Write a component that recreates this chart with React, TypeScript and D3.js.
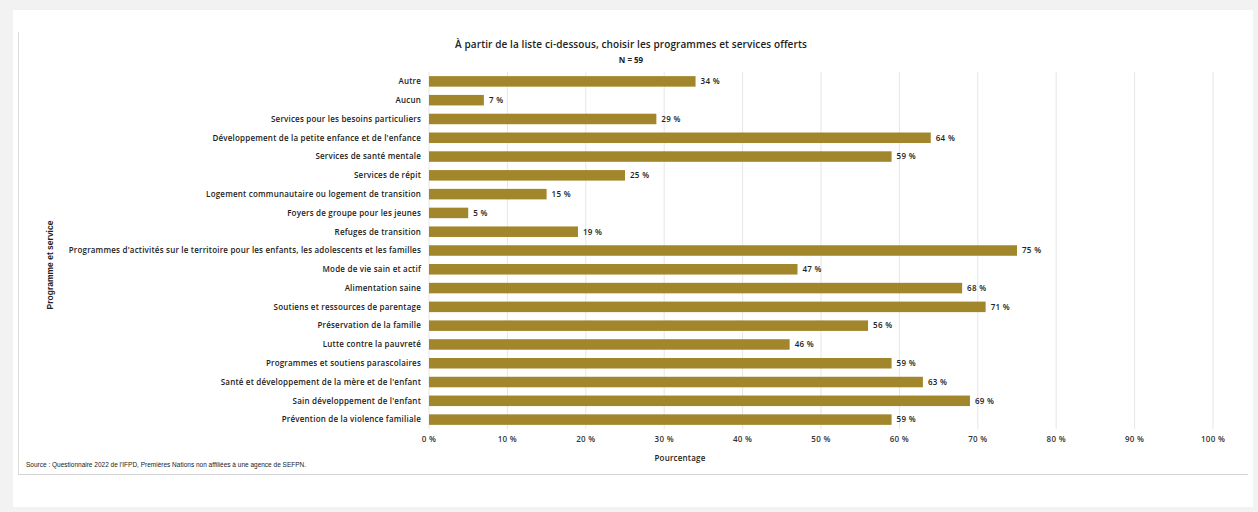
import React from "react";
import * as d3 from "d3";

const categories: string[] = [
  "Autre",
  "Aucun",
  "Services pour les besoins particuliers",
  "Développement de la petite enfance et de l'enfance",
  "Services de santé mentale",
  "Services de répit",
  "Logement communautaire ou logement de transition",
  "Foyers de groupe pour les jeunes",
  "Refuges de transition",
  "Programmes d'activités sur le territoire pour les enfants, les adolescents et les familles",
  "Mode de vie sain et actif",
  "Alimentation saine",
  "Soutiens et ressources de parentage",
  "Préservation de la famille",
  "Lutte contre la pauvreté",
  "Programmes et soutiens parascolaires",
  "Santé et développement de la mère et de l'enfant",
  "Sain développement de l'enfant",
  "Prévention de la violence familiale",
];
const values: number[] = [34, 7, 29, 64, 59, 25, 15, 5, 19, 75, 47, 68, 71, 56, 46, 59, 63, 69, 59];
const xTicks: number[] = [0, 10, 20, 30, 40, 50, 60, 70, 80, 90, 100];

const title = "À partir de la liste ci-dessous, choisir les programmes et services offerts";
const subtitle = "N = 59";
const xTitle = "Pourcentage";
const yTitle = "Programme et service";
const source = "Source : Questionnaire 2022 de l'IFPD, Premières Nations non affiliées à une agence de SEFPN.";

const W = 1258;
const H = 512;
const FONT = "'Open Sans', 'Noto Sans', sans-serif";
const BAR = "#a2862c";

export default function App() {
  const x = d3.scaleLinear().domain([0, 100]).range([429, 1213]);
  const y = d3.scaleBand<string>().domain(categories).range([72, 429]).paddingInner(0.44).paddingOuter(0.22);
  const fmt = (v: number) => `${v} %`;

  return (
    <svg
      width={W}
      height={H}
      style={{ position: "absolute", left: 0, top: 0, display: "block" }}
    >
      <rect x={0} y={0} width={W} height={H} fill="#f2f2f2" />
      <rect x={13} y={10} width={1240} height={497} fill="#ffffff" />
      {/* card borders */}
      <line x1={18.5} x2={18.5} y1={32} y2={474} stroke="#dcdcdc" strokeWidth={1} />
      <line x1={18} x2={1248} y1={474.5} y2={474.5} stroke="#d4d4d4" strokeWidth={1} />

      {/* gridlines */}
      {xTicks.map((t) => (
        <line
          key={t}
          x1={x(t)}
          x2={x(t)}
          y1={72}
          y2={429}
          stroke="#e6e6e6"
          strokeWidth={1}
        />
      ))}

      {/* bars */}
      {categories.map((c, i) => (
        <g key={c}>
          <rect
            x={x(0)}
            y={y(c)!}
            width={x(values[i]) - x(0)}
            height={y.bandwidth()}
            fill={BAR}
          />
          <text
            x={x(values[i]) + 5}
            y={y(c)! + y.bandwidth() / 2}
            dy="0.35em"
            fontFamily={FONT}
            fontSize={8}
            fontWeight={600}
            letterSpacing={0.3}
            fill="#222"
          >
            {fmt(values[i])}
          </text>
          <text
            x={421}
            y={y(c)! + y.bandwidth() / 2}
            dy="0.35em"
            textAnchor="end"
            fontFamily={FONT}
            fontSize={8}
            fontWeight={600}
            letterSpacing={0.2}
            fill="#222"
          >
            {c}
          </text>
        </g>
      ))}

      {/* x tick labels */}
      {xTicks.map((t) => (
        <text
          key={t}
          x={x(t)}
          y={439}
          dy="0.35em"
          textAnchor="middle"
          fontFamily={FONT}
          fontSize={8}
          fontWeight={600}
          letterSpacing={0.3}
          fill="#333"
        >
          {fmt(t)}
        </text>
      ))}

      <text x={(429 + 1213) / 2 - 141} y={458} dy="0.35em" textAnchor="middle" fontFamily={FONT} fontSize={8} fontWeight={600} letterSpacing={0.2} fill="#222">
        {xTitle}
      </text>
      <text
        transform={`translate(50,265) rotate(-90)`}
        dy="0.35em"
        textAnchor="middle"
        fontFamily="'Liberation Sans', Arial, sans-serif"
        fontSize={8.5}
        fontWeight={700}
        fill="#222"
      >
        {yTitle}
      </text>
      <text x={631} y={44} dy="0.35em" textAnchor="middle" fontFamily={FONT} fontSize={10} fontWeight={600} letterSpacing={0.1} fill="#222">
        {title}
      </text>
      <text x={631} y={60} dy="0.35em" textAnchor="middle" fontFamily={FONT} fontSize={8} fontWeight={700} fill="#222">
        {subtitle}
      </text>
      <text x={26} y={465} dy="0.35em" fontFamily="'Liberation Sans', Arial, sans-serif" fontSize={6.5} fill="#222">
        {source}
      </text>
    </svg>
  );
}
